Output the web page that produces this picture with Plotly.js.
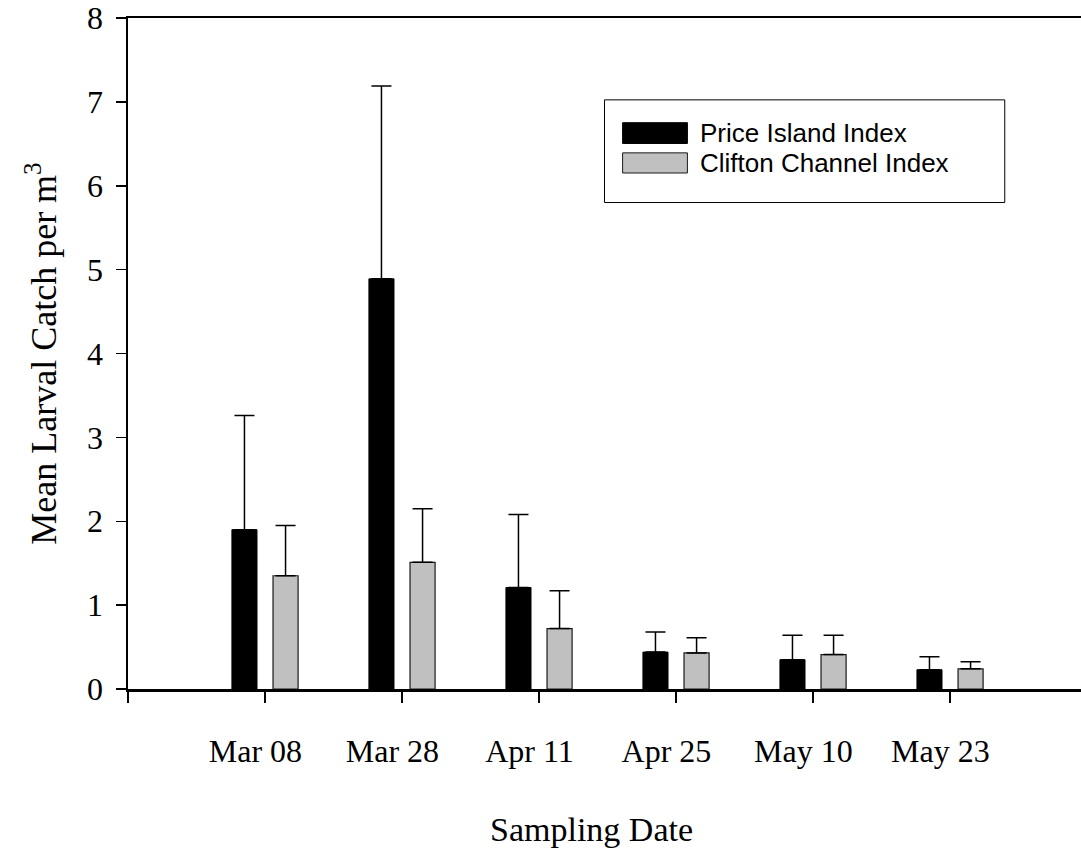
<!DOCTYPE html>
<html>
<head>
<meta charset="utf-8">
<script src="https://cdn.plot.ly/plotly-3.0.1.min.js"></script>
<style>html,body{margin:0;padding:0;background:#fff;}</style>
</head>
<body>
<div id="chart" style="width:1081px;height:850px;"></div>
<script>
// ---- data ----
const dates = ["Mar 08", "Mar 28", "Apr 11", "Apr 25", "May 10", "May 23"];
const priceIsland = [1.90, 4.89, 1.21, 0.44, 0.35, 0.23];
const priceIslandErr = [1.36, 2.30, 0.87, 0.24, 0.29, 0.155];
const cliftonChannel = [1.35, 1.51, 0.72, 0.43, 0.41, 0.24];
const cliftonChannelErr = [0.60, 0.64, 0.45, 0.18, 0.23, 0.085];
const seriesNames = ["Price Island Index", "Clifton Channel Index"];
const yTicks = [0, 1, 2, 3, 4, 5, 6, 7, 8];
const xTitle = "Sampling Date";
const yTitle = "Mean Larval Catch per m<sup>3</sup>";

const xPos = dates.map((d, i) => i + 1);
const xTickMarks = [0].concat(xPos);
const zeros = dates.map(() => 0);

const serif = "Liberation Serif, Times New Roman, serif";
const sans = "Liberation Sans, Arial, sans-serif";

const traces = [
  {
    type: "bar", name: seriesNames[0], x: xPos, y: priceIsland,
    marker: {color: "#000000", line: {color: "#000000", width: 1}},
    error_y: {type: "data", symmetric: false, array: priceIslandErr, arrayminus: zeros,
              color: "#000000", thickness: 1.5, width: 10},
    showlegend: false, hoverinfo: "x+y"
  },
  {
    type: "bar", name: seriesNames[1], x: xPos, y: cliftonChannel,
    marker: {color: "#C0C0C0", line: {color: "#1a1a1a", width: 1.2}},
    error_y: {type: "data", symmetric: false, array: cliftonChannelErr, arrayminus: zeros,
              color: "#000000", thickness: 1.5, width: 10},
    showlegend: false, hoverinfo: "x+y"
  },
  {
    type: "scatter", x: [], y: [], xaxis: "x2", showlegend: false, hoverinfo: "skip"
  }
];

// custom legend (box + swatches + text), in paper coordinates
const lg = {x0: 0.500, x1: 0.920, y0: 0.725, y1: 0.878, sx0: 0.519, sx1: 0.587, tx: 0.598};
const rows = [{y0: 0.813, y1: 0.844, ty: 0.8285, fill: "#000000", line: "#000000"},
              {y0: 0.769, y1: 0.799, ty: 0.784, fill: "#C0C0C0", line: "#1a1a1a"}];
const shapes = [{type: "rect", xref: "paper", yref: "paper", x0: lg.x0, x1: lg.x1, y0: lg.y0, y1: lg.y1,
                 line: {color: "#000", width: 1}, fillcolor: "#fff", layer: "above"}];
const annotations = [];
rows.forEach((r, i) => {
  shapes.push({type: "rect", xref: "paper", yref: "paper", x0: lg.sx0, x1: lg.sx1, y0: r.y0, y1: r.y1,
               line: {color: r.line, width: 1}, fillcolor: r.fill, layer: "above"});
  annotations.push({xref: "paper", yref: "paper", x: lg.tx, y: r.ty, xanchor: "left", yanchor: "middle",
                    text: seriesNames[i], showarrow: false, font: {family: sans, size: 26, color: "#000"}});
});
// x-axis title
annotations.push({xref: "paper", yref: "paper", x: 0.486, y: -0.210, xanchor: "center", yanchor: "middle",
                  text: xTitle, showarrow: false, font: {family: serif, size: 34, color: "#000"}});

const layout = {
  width: 1081, height: 850,
  margin: {l: 128, r: 0, t: 18, b: 161},
  paper_bgcolor: "#fff", plot_bgcolor: "#fff",
  barmode: "group", bargap: 0.4, bargroupgap: 0.39,
  xaxis: {
    range: [0, 6.956], tickmode: "array", tickvals: xTickMarks, showticklabels: false,
    ticks: "outside", ticklen: 11, tickwidth: 1.5, tickcolor: "#000",
    showline: true, linewidth: 2.5, linecolor: "#000", mirror: true,
    showgrid: false, zeroline: false, fixedrange: true
  },
  xaxis2: {
    overlaying: "x", anchor: "y", side: "bottom",
    range: [0, 6.956], tickmode: "array", tickvals: xPos.map(v => v - 0.07), ticktext: dates,
    ticks: "", showline: false, showgrid: false, zeroline: false,
    ticklabelstandoff: 40,
    tickfont: {family: serif, size: 32, color: "#000"}
  },
  yaxis: {
    range: [0, 8], tickmode: "array", tickvals: yTicks,
    ticks: "outside", ticklen: 10, tickwidth: 1.5, tickcolor: "#000",
    showline: true, linewidth: 2.5, linecolor: "#000",
    showgrid: false, zeroline: false, ticklabelstandoff: 6,
    tickfont: {family: serif, size: 32, color: "#000"},
    title: {text: yTitle, font: {family: serif, size: 36, color: "#000"}, standoff: 20}
  },
  shapes: shapes,
  annotations: annotations,
  showlegend: false
};

Plotly.newPlot("chart", traces, layout, {displayModeBar: false, staticPlot: true});
</script>
</body>
</html>
